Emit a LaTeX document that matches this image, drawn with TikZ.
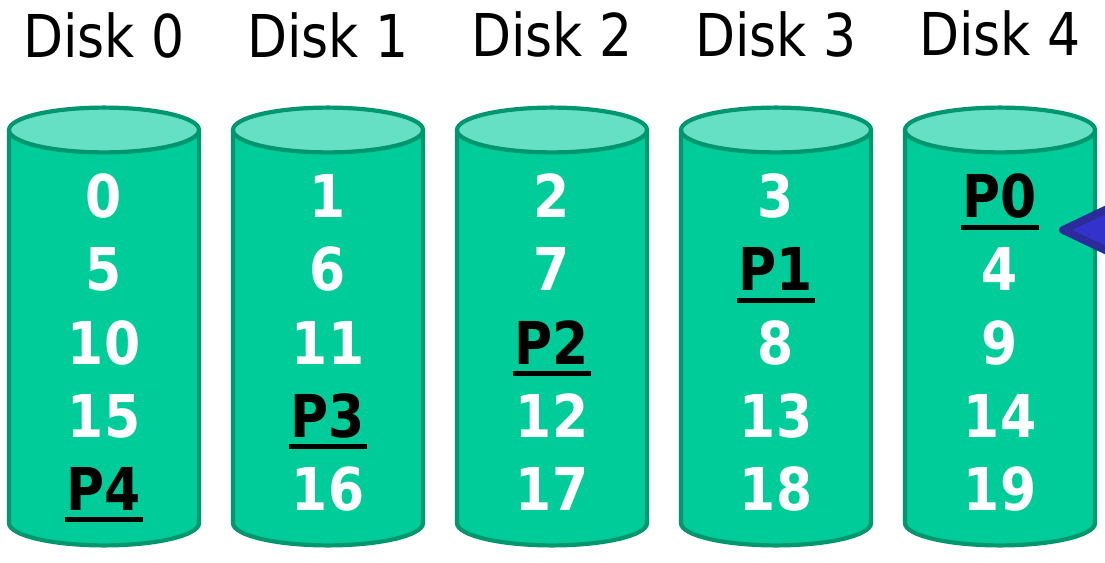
\documentclass[tikz,border=0pt]{standalone}
\usepackage{fontspec}
\setmainfont{DejaVu Sans}[FakeStretch=0.88]
\definecolor{diskbody}{RGB}{0,204,153}
\definecolor{disktop}{RGB}{102,224,196}
\definecolor{diskline}{RGB}{0,150,110}
\definecolor{arrowline}{RGB}{43,43,153}
\definecolor{arrowfill}{RGB}{51,51,204}
\newcommand\pl[1]{{\color{black}\setbox0\hbox{#1}\rlap{\hskip-1.5pt\vrule height -5pt depth 8.5pt width \dimexpr\wd0+3pt\relax}\box0}}

\begin{document}
\begin{tikzpicture}[
  disk/.style = {draw = diskline, line width = 3pt, fill = diskbody},
  lid/.style = {draw = diskline, line width = 3pt, fill = disktop},
  entry/.style = {text = white, font = \fontsize{42}{50}\selectfont\bfseries, anchor = base, inner sep = 0pt},
  title/.style = {font = \fontsize{42}{50}\selectfont, anchor = base, inner sep = 0pt},
  pointer/.style = {draw = arrowline, line width = 5.5pt, line join = round, fill = arrowfill}]
\clip (0,0) rectangle (27.625,14.05);
\useasboundingbox (0,0) rectangle (27.625,14.05);

\foreach \d/\cells in {0/{0,5,10,15,\pl{P4}}, 1/{1,6,11,\pl{P3},16}, 2/{2,7,\pl{P2},12,17}, 3/{3,\pl{P1},8,13,18}, 4/{\pl{P0},4,9,14,19}}{
  \pgfmathsetmacro\cx{2.6+5.6*\d}
  \draw[disk] (\cx-2.375,10.8) -- (\cx-2.375,0.975) arc (180:360:2.375 and 0.56) -- (\cx+2.375,10.8);
  \draw[lid] (\cx,10.8) ellipse (2.375 and 0.56);
  \node[title] (title\d) at (\cx,12.6+0.0125*\d) {Disk \d};
  \foreach \t [count=\k from 0] in \cells
    \node[entry] (d\d r\k) at (\cx,8.6-1.825*\k) {\t};
}

\coordinate (ptr) at (26.575,8.3);
\draw[pointer] (ptr) -- ++(2.425,1.155) -- ++(0,-2.31) -- cycle;

\end{tikzpicture}
\end{document}
